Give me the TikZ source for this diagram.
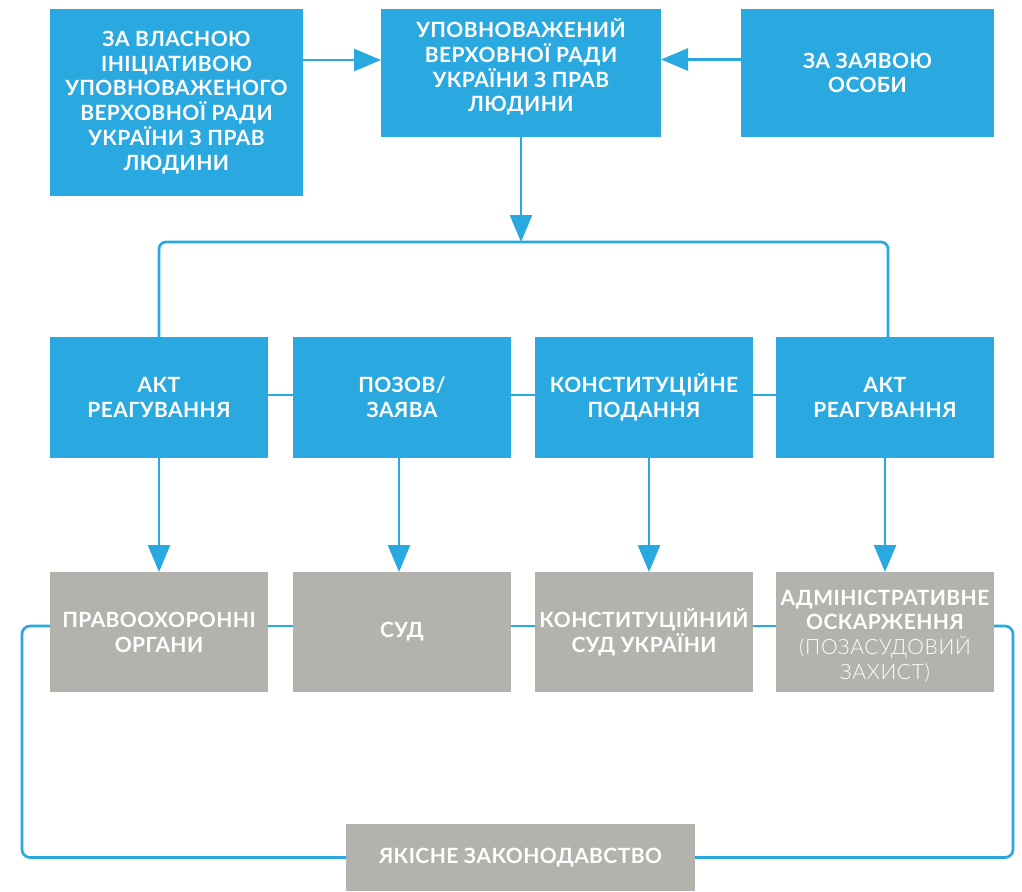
\documentclass[tikz,border=0pt]{standalone}
\usepackage{fontspec}
\setmainfont{Lato}[LetterSpace=2]
\newfontfamily\lightfont{Lato Light}[BoldFont=Lato Light, LetterSpace=3]
\usetikzlibrary{arrows.meta,calc}
\definecolor{cblue}{HTML}{29A9E0}
\definecolor{cgray}{HTML}{B3B2AD}
\tikzset{
 box/.style={inner sep=0pt, outer sep=0pt, align=center, text=white, font=\fontsize{21}{24.8}\selectfont\bfseries},
 bluebox/.style={box, fill=cblue},
 graybox/.style={box, fill=cgray},
 midbox/.style={minimum width=218pt, minimum height=121pt},
 lowbox/.style={minimum width=218pt, minimum height=120pt},
 conn/.style={draw=cblue, line width=2.7pt},
 arr/.style={conn, -{Triangle[length=27pt,width=22pt]}},
}
\begin{document}
\begin{tikzpicture}[x=1pt,y=-1pt]
\useasboundingbox (0,0) rectangle (1022,891);
% top row
\node[bluebox, minimum width=253pt, minimum height=187pt] (a) at (176.5,102.5) {ЗА ВЛАСНОЮ\\ІНІЦІАТИВОЮ\\УПОВНОВАЖЕНОГО\\ВЕРХОВНОЇ РАДИ\\УКРАЇНИ З ПРАВ\\ЛЮДИНИ};
\node[bluebox, minimum width=280pt, minimum height=128pt] (u) at (521,73) {};
\node[box] (ut) at (521,67) {УПОВНОВАЖЕНИЙ\\ВЕРХОВНОЇ РАДИ\\УКРАЇНИ З ПРАВ\\ЛЮДИНИ};
\node[bluebox, minimum width=253pt, minimum height=128pt] (z) at (867.5,73) {ЗА ЗАЯВОЮ\\ОСОБИ};
% middle row
\node[bluebox, midbox] (m1) at (159,397.5) {АКТ\\РЕАГУВАННЯ};
\node[bluebox, midbox] (m2) at (402,397.5) {ПОЗОВ/\\ЗАЯВА};
\node[bluebox, midbox] (m3) at (644,397.5) {КОНСТИТУЦІЙНЕ\\ПОДАННЯ};
\node[bluebox, midbox] (m4) at (885,397.5) {АКТ\\РЕАГУВАННЯ};
% bottom row
\node[graybox, lowbox] (b1) at (159,632) {ПРАВООХОРОННІ\\ОРГАНИ};
\node[graybox, lowbox] (b2) at (402,632) {СУД};
\node[graybox, lowbox] (b3) at (644,632) {КОНСТИТУЦІЙНИЙ\\СУД УКРАЇНИ};
\node[graybox, lowbox] (b4) at (885,632) {};
\node[box] (b4t) at (885,636) {АДМІНІСТРАТИВНЕ\\ОСКАРЖЕННЯ\\\lightfont\mdseries (ПОЗАСУДОВИЙ\\\lightfont\mdseries ЗАХИСТ)};
\node[graybox, minimum width=349pt, minimum height=67pt] (q) at (520.5,857.5) {ЯКІСНЕ ЗАКОНОДАВСТВО};
% coordinates
\coordinate (split) at (521,242);
\coordinate (lc) at (22,857.5);
\coordinate (rc) at (1013,857.5);
% connectors top
\draw[arr] ([yshift=42.5pt]a.east) -- ([yshift=13pt]u.west);
\draw[arr] ([yshift=13.5pt]z.west) -- ([yshift=13.5pt]u.east);
\draw[arr] (u.south) -- (split);
\draw[conn, rounded corners=7pt] (m1.north) |- (split) -| ([xshift=3pt]m4.north);
% middle links
\draw[conn] ([yshift=2.5pt]m1.east) -- ([yshift=2.5pt]m2.west);
\draw[conn] ([yshift=2.5pt]m2.east) -- ([yshift=2.5pt]m3.west);
\draw[conn] ([yshift=2.5pt]m3.east) -- ([yshift=2.5pt]m4.west);
% down arrows
\draw[arr] (m1.south) -- (b1.north);
\draw[arr] ([xshift=-3pt]m2.south) -- ([xshift=-3pt]b2.north);
\draw[arr] ([xshift=5pt]m3.south) -- ([xshift=5pt]b3.north);
\draw[arr] (m4.south) -- (b4.north);
% bottom links
\draw[conn] ([yshift=6pt]b1.east) -- ([yshift=6pt]b2.west);
\draw[conn] ([yshift=6pt]b2.east) -- ([yshift=6pt]b3.west);
\draw[conn] ([yshift=6pt]b3.east) -- ([yshift=6pt]b4.west);
% loop to legislation
\draw[conn, rounded corners=8pt] ([yshift=6pt]b1.west) -| (lc) -- (q.west);
\draw[conn, rounded corners=8pt] ([yshift=6pt]b4.east) -| (rc) -- (q.east);
\end{tikzpicture}
\end{document}
